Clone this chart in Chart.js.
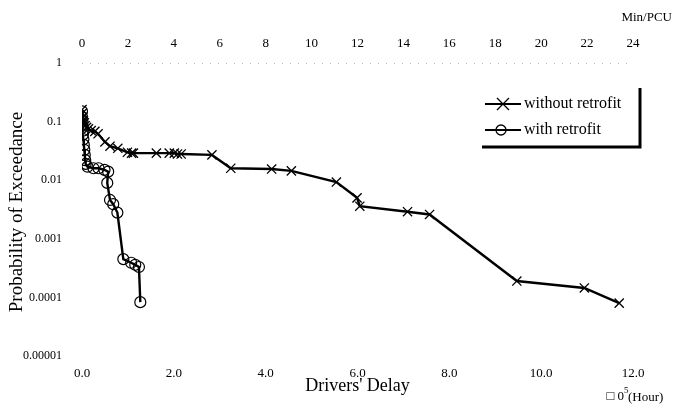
<!DOCTYPE html>
<html>
<head>
<meta charset="utf-8">
<script src="https://cdn.jsdelivr.net/npm/chart.js@4/dist/chart.umd.min.js"></script>
<style>
  html, body { margin: 0; padding: 0; background: #fff; }
  #wrap { width: 681px; height: 406px; position: relative; }
</style>
</head>
<body>
<div id="wrap"><canvas id="delayChart"></canvas></div>
<script>
// Drivers' delay (x 10^5 hour) vs probability of exceedance
const delayWithout = [0.00, 0.01, 0.02, 0.03, 0.05, 0.07, 0.10, 0.14, 0.20, 0.28, 0.35, 0.50, 0.61, 0.78,
  0.99, 1.08, 1.12, 1.62, 1.90, 2.01, 2.08, 2.16, 2.83, 3.24, 4.13, 4.56, 5.54, 5.99, 6.05, 7.09, 7.57,
  9.47, 10.94, 11.70];
const probWithout = [0.16, 0.14, 0.12, 0.105, 0.095, 0.085, 0.08, 0.075, 0.07, 0.068, 0.062, 0.045, 0.038, 0.035,
  0.030, 0.029, 0.029, 0.029, 0.029, 0.029, 0.028, 0.028, 0.027, 0.016, 0.0155, 0.0144, 0.0093, 0.0050, 0.0036, 0.0029, 0.0026,
  0.00019, 0.000145, 0.00008];

const delayWith = [0.00, 0.00, 0.01, 0.01, 0.02, 0.02, 0.03, 0.04, 0.05, 0.06, 0.07, 0.08, 0.12, 0.25, 0.36, 0.49,
  0.57, 0.55, 0.61, 0.68, 0.77, 0.90, 1.07, 1.16, 1.24, 1.27];
const probWith = [0.15, 0.12, 0.10, 0.085, 0.07, 0.06, 0.05, 0.04, 0.033, 0.027, 0.022, 0.019, 0.017, 0.016, 0.016, 0.015,
  0.014, 0.009, 0.0046, 0.0039, 0.0028, 0.00045, 0.00039, 0.00036, 0.00033, 0.000083];

const yTicks = [1, 0.1, 0.01, 0.001, 0.0001, 0.00001];
const yTickLabels = ['1', '0.1', '0.01', '0.001', '0.0001', '0.00001'];
const xTicks = [0, 2, 4, 6, 8, 10, 12];
const xTickLabels = ['0.0', '2.0', '4.0', '6.0', '8.0', '10.0', '12.0'];
const topTicks = [0, 2, 4, 6, 8, 10, 12, 14, 16, 18, 20, 22, 24];

const serif = "'Liberation Serif', 'DejaVu Serif', serif";

const toPoints = (xs, ys) => xs.map((x, i) => ({ x: x, y: ys[i] }));

// legend, y title and unit labels drawn by hand
const extrasPlugin = {
  id: 'extras',
  afterDraw(chart) {
    const ctx = chart.ctx;
    ctx.save();
    ctx.fillStyle = '#000';
    ctx.textBaseline = 'middle';

    ctx.save();
    ctx.translate(17, 212);
    ctx.rotate(-Math.PI / 2);
    ctx.textAlign = 'center';
    ctx.font = '19px ' + serif;
    ctx.fillText('Probability of Exceedance', 0, 0);
    ctx.restore();

    ctx.font = '13px ' + serif;
    ctx.textAlign = 'right';
    ctx.fillText('Min/PCU', 672, 18);
    ctx.fillText('\u25A1 0', 624, 397);
    ctx.textAlign = 'left';
    ctx.fillText('(Hour)', 628, 398);
    ctx.font = '9px ' + serif;
    ctx.fillText('5', 624, 391);

    // legend box (right + bottom edges only)
    ctx.strokeStyle = '#000';
    ctx.lineWidth = 3;
    ctx.beginPath();
    ctx.moveTo(640, 88);
    ctx.lineTo(640, 147);
    ctx.lineTo(482, 147);
    ctx.stroke();

    const rows = [104, 130];
    chart.data.datasets.forEach((ds, i) => {
      const y = rows[i];
      ctx.lineWidth = 2;
      ctx.beginPath();
      ctx.moveTo(485, y);
      ctx.lineTo(521, y);
      ctx.stroke();
      ctx.lineWidth = 1.3;
      ctx.beginPath();
      if (ds.pointStyle === 'crossRot') {
        ctx.moveTo(497, y - 6); ctx.lineTo(509, y + 6);
        ctx.moveTo(509, y - 6); ctx.lineTo(497, y + 6);
      } else {
        ctx.arc(501, y, 5, 0, Math.PI * 2);
      }
      ctx.stroke();
      ctx.font = '16px ' + serif;
      ctx.fillText(ds.label, 524, y);
    });
    ctx.restore();
  }
};

new Chart(document.getElementById('delayChart'), {
  type: 'line',
  data: {
    datasets: [
      {
        label: 'without retrofit',
        data: toPoints(delayWithout, probWithout),
        borderColor: '#000',
        borderWidth: 2.4,
        pointStyle: 'crossRot',
        pointRadius: 6.5,
        pointBorderWidth: 1.3,
        pointBorderColor: '#000',
        tension: 0
      },
      {
        label: 'with retrofit',
        data: toPoints(delayWith, probWith),
        borderColor: '#000',
        borderWidth: 2.4,
        pointStyle: 'circle',
        pointRadius: 5.5,
        pointBorderWidth: 1.2,
        pointBorderColor: '#000',
        pointBackgroundColor: 'rgba(0,0,0,0)',
        tension: 0
      }
    ]
  },
  options: {
    responsive: true,
    maintainAspectRatio: false,
    animation: false,
    layout: { padding: { left: 0, right: 48, top: 0, bottom: 0 } },
    plugins: { legend: { display: false }, tooltip: { enabled: false } },
    scales: {
      x: {
        type: 'linear',
        position: 'bottom',
        min: 0,
        max: 12,
        afterBuildTicks: (scale) => { scale.ticks = xTicks.map(v => ({ value: v })); },
        afterFit: (scale) => { scale.height = 50; },
        grid: { display: false, drawTicks: false },
        border: { display: false },
        ticks: {
          color: '#000',
          padding: 10,
          font: { family: serif, size: 13 },
          callback: (v) => xTickLabels[xTicks.indexOf(v)]
        },
        title: {
          display: true,
          text: "Drivers' Delay",
          color: '#000',
          padding: { top: 0, bottom: 9 },
          font: { family: serif, size: 18 }
        }
      },
      x2: {
        type: 'linear',
        position: 'top',
        min: 0,
        max: 24,
        afterBuildTicks: (scale) => { scale.ticks = topTicks.map(v => ({ value: v })); },
        afterFit: (scale) => { scale.height = 63; },
        grid: { display: false, drawTicks: false },
        border: { display: false },
        ticks: { color: '#000', padding: 12, font: { family: serif, size: 13 } }
      },
      y: {
        type: 'logarithmic',
        min: 0.00001,
        max: 1,
        afterBuildTicks: (scale) => { scale.ticks = yTicks.map(v => ({ value: v })); },
        afterFit: (scale) => { scale.width = 82; },
        grid: {
          drawTicks: false,
          color: (c) => (c.tick && c.tick.value === 1 ? '#b8b8b8' : 'rgba(0,0,0,0)'),
          lineWidth: 1
        },
        border: { display: false, dash: [1, 7] },
        ticks: {
          color: '#000',
          padding: 20,
          font: { family: serif, size: 12 },
          callback: (v) => yTickLabels[yTicks.indexOf(v)]
        }
      }
    }
  },
  plugins: [extrasPlugin]
});
</script>
</body>
</html>
